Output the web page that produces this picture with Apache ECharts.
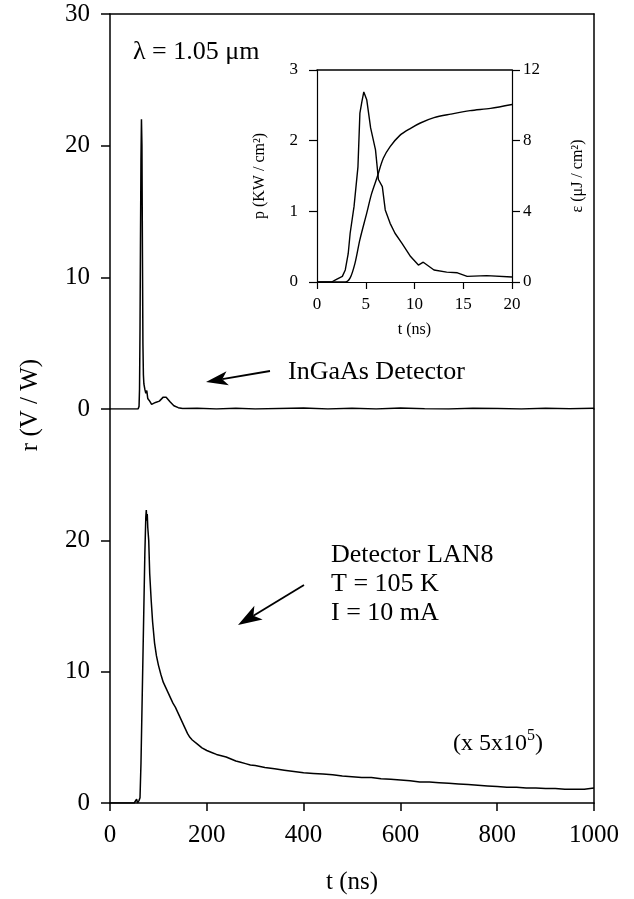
<!DOCTYPE html>
<html>
<head>
<meta charset="utf-8">
<script src="https://cdn.jsdelivr.net/npm/echarts@6/dist/echarts.min.js"></script>
<style>
  html, body { margin: 0; padding: 0; background: #fff; }
  #chart { width: 634px; height: 899px; }
</style>
</head>
<body>
<div id="chart"></div>
<script>
// InGaAs detector trace (upper panel), t in ns, r in V/W
var ingaasT = [0, 40, 58, 60, 61, 62, 63, 64, 65, 66, 67, 68, 69, 70, 72, 74, 76, 78, 82, 86, 90, 94, 98, 102, 106, 110, 113, 116, 120, 124, 128, 132, 136, 141, 150, 180, 220, 260, 300, 350, 400, 450, 500, 550, 600, 650, 700, 750, 800, 850, 900, 950, 1000];
var ingaasR = [0, 0, 0, 0.2, 1.5, 6, 13, 19, 22, 20, 12, 5, 2.6, 1.9, 1.5, 1.2, 1.4, 0.8, 0.6, 0.35, 0.45, 0.5, 0.4, 0.6, 0.75, 0.9, 1.0, 0.9, 0.75, 0.55, 0.4, 0.25, 0.15, 0.1, 0.03, 0.05, 0, 0.06, 0, 0.04, 0.08, 0, 0.05, 0, 0.07, 0.02, 0, 0.06, 0.03, 0, 0.05, 0.02, 0.05];

// LAN8 detector trace (lower panel, x 5x10^5)
var lan8T = [0, 50, 55, 57, 60, 62, 64, 66, 68, 70, 72, 74, 75, 76, 77, 78, 80, 82, 85, 88, 92, 96, 100, 105, 110, 115, 120, 125, 130, 135, 140, 145, 150, 155, 160, 165, 170, 180, 190, 200, 210, 220, 230, 240, 250, 260, 270, 280, 290, 300, 320, 340, 360, 380, 400, 420, 440, 460, 480, 500, 520, 540, 560, 580, 600, 620, 640, 660, 680, 700, 720, 740, 760, 780, 800, 820, 840, 860, 880, 900, 920, 940, 960, 980, 1000];
var lan8R = [0, 0, 0.3, 0, 0.2, 0.4, 3, 7, 11, 15, 19, 21.8, 22.3, 21.5, 22.0, 21.0, 20.0, 17.5, 15.5, 13.8, 12.2, 11.2, 10.5, 9.8, 9.2, 8.8, 8.4, 8.0, 7.6, 7.3, 6.9, 6.5, 6.1, 5.7, 5.3, 5.0, 4.8, 4.5, 4.2, 4.0, 3.85, 3.7, 3.6, 3.5, 3.35, 3.2, 3.1, 3.0, 2.9, 2.85, 2.7, 2.6, 2.5, 2.4, 2.3, 2.25, 2.2, 2.15, 2.05, 2.0, 1.95, 1.95, 1.85, 1.8, 1.75, 1.7, 1.6, 1.6, 1.55, 1.5, 1.45, 1.4, 1.35, 1.3, 1.25, 1.2, 1.2, 1.15, 1.15, 1.1, 1.1, 1.05, 1.05, 1.05, 1.15];

// inset: laser pulse power p (KW/cm2) and energy e (uJ/cm2)
var pulseT = [0, 1.5, 1.9, 2.3, 2.6, 2.9, 3.2, 3.4, 3.8, 4.2, 4.4, 4.6, 4.8, 5.1, 5.5, 6.0, 6.3, 6.7, 7.0, 7.5, 8.0, 8.7, 9.6, 10.4, 10.9, 12.0, 13.3, 14.4, 15.4, 17.4, 20];
var pulseP = [0, 0, 0.03, 0.06, 0.08, 0.17, 0.4, 0.69, 1.07, 1.63, 2.39, 2.55, 2.69, 2.58, 2.18, 1.87, 1.45, 1.35, 1.02, 0.83, 0.69, 0.55, 0.36, 0.24, 0.28, 0.17, 0.14, 0.13, 0.08, 0.09, 0.07];
var energyT = [0, 2.9, 3.4, 3.9, 4.4, 5.1, 5.6, 6.15, 6.8, 7.5, 8.5, 9.6, 10.6, 12.0, 13.7, 15.7, 17.8, 20];
var energyE = [0, 0, 0.23, 1.07, 2.4, 3.9, 5.0, 5.9, 7.0, 7.66, 8.3, 8.7, 9.0, 9.3, 9.5, 9.7, 9.83, 10.05];

function zip(a, b) {
	var out = [];
	for (var i = 0; i < a.length; i++) {
		out.push([a[i], b[i]]);
	}
	return out;
}

var serif = "'Liberation Serif', 'DejaVu Serif', serif";
var black = '#000';

function plain(v) { return String(v); }

function borderAxis(extra) {
	var ax = {
		type: 'value',
		axisLine: { show: true, onZero: false, lineStyle: { color: black, width: 1.5 } },
		axisTick: { show: false },
		axisLabel: { show: false },
		splitLine: { show: false }
	};
	for (var k in extra) ax[k] = extra[k];
	return ax;
}

// arrow head polygon from tail->tip
function arrow(x1, y1, x2, y2, len, half) {
	var dx = x2 - x1, dy = y2 - y1;
	var d = Math.sqrt(dx * dx + dy * dy);
	var ux = dx / d, uy = dy / d;
	var bx = x2 - ux * len, by = y2 - uy * len;
	var nx = -uy * half, ny = ux * half;
	var mx = x2 - ux * len * 0.75, my = y2 - uy * len * 0.75;
	return [
		{ type: 'line', shape: { x1: x1, y1: y1, x2: mx, y2: my }, style: { stroke: black, lineWidth: 1.8 } },
		{ type: 'polygon', shape: { points: [[x2, y2], [bx + nx, by + ny], [mx, my], [bx - nx, by - ny]] }, style: { fill: black } }
	];
}

var chart = echarts.init(document.getElementById('chart'));

var option = {
	backgroundColor: '#fff',
	animation: false,
	grid: [
		{ left: 110, top: 14, width: 484, height: 395 },
		{ left: 110, top: 409, width: 484, height: 394 },
		{ left: 317, top: 70, width: 195, height: 212 }
	],
	xAxis: [
		borderAxis({ gridIndex: 0, min: 0, max: 1000, position: 'top' }),
		{
			type: 'value', gridIndex: 1, min: 0, max: 1000, interval: 200,
			axisLine: { onZero: false, lineStyle: { color: black, width: 1.5 } },
			axisTick: { show: true, length: 8, lineStyle: { color: black, width: 1.5 } },
			axisLabel: { color: black, fontFamily: serif, fontSize: 25, margin: 20, formatter: plain },
			splitLine: { show: false },
			name: 't (ns)', nameLocation: 'middle', nameGap: 67,
			nameTextStyle: { color: black, fontFamily: serif, fontSize: 25 }
		},
		{
			type: 'value', gridIndex: 2, min: 0, max: 20, interval: 5,
			axisLine: { onZero: false, lineStyle: { color: black, width: 1.2 } },
			axisTick: { show: true, length: 7, lineStyle: { color: black, width: 1.2 } },
			axisLabel: { color: black, fontFamily: serif, fontSize: 17, margin: 14 },
			splitLine: { show: false },
			name: 't (ns)', nameLocation: 'middle', nameGap: 40,
			nameTextStyle: { color: black, fontFamily: serif, fontSize: 16 }
		},
		borderAxis({ gridIndex: 2, min: 0, max: 20, position: 'top' })
	],
	yAxis: [
		{
			type: 'value', gridIndex: 0, min: 0, max: 30, interval: 10,
			axisLine: { onZero: false, lineStyle: { color: black, width: 1.5 } },
			axisTick: { show: true, length: 9, lineStyle: { color: black, width: 1.5 } },
			axisLabel: { color: black, fontFamily: serif, fontSize: 25, margin: 20 },
			splitLine: { show: false }
		},
		borderAxis({ gridIndex: 0, min: 0, max: 30, position: 'right' }),
		{
			type: 'value', gridIndex: 1, min: 0, max: 30, interval: 10,
			axisLine: { onZero: false, lineStyle: { color: black, width: 1.5 } },
			axisTick: { show: true, length: 9, lineStyle: { color: black, width: 1.5 } },
			axisLabel: { color: black, fontFamily: serif, fontSize: 25, margin: 20, showMaxLabel: false },
			splitLine: { show: false }
		},
		borderAxis({ gridIndex: 1, min: 0, max: 30, position: 'right' }),
		{
			type: 'value', gridIndex: 2, min: 0, max: 3, interval: 1,
			axisLine: { onZero: false, lineStyle: { color: black, width: 1.2 } },
			axisTick: { show: true, length: 8, lineStyle: { color: black, width: 1.2 } },
			axisLabel: { color: black, fontFamily: serif, fontSize: 17, margin: 19 },
			splitLine: { show: false },
			name: 'p (KW / cm²)', nameLocation: 'middle', nameGap: 49,
			nameTextStyle: { color: black, fontFamily: serif, fontSize: 16 }
		},
		{
			type: 'value', gridIndex: 2, min: 0, max: 12, interval: 4, position: 'right',
			axisLine: { onZero: false, lineStyle: { color: black, width: 1.2 } },
			axisTick: { show: true, length: 8, lineStyle: { color: black, width: 1.2 } },
			axisLabel: { color: black, fontFamily: serif, fontSize: 17, margin: 11 },
			splitLine: { show: false },
			name: 'ε (μJ / cm²)', nameLocation: 'middle', nameGap: 58,
			nameTextStyle: { color: black, fontFamily: serif, fontSize: 16 }
		}
	],
	series: [
		{
			name: 'InGaAs', type: 'line', xAxisIndex: 0, yAxisIndex: 0,
			data: zip(ingaasT, ingaasR), showSymbol: false,
			lineStyle: { color: black, width: 1.5 }
		},
		{
			name: 'LAN8', type: 'line', xAxisIndex: 1, yAxisIndex: 2,
			data: zip(lan8T, lan8R), showSymbol: false,
			lineStyle: { color: black, width: 1.5 }
		},
		{
			name: 'p', type: 'line', xAxisIndex: 2, yAxisIndex: 4,
			data: zip(pulseT, pulseP), showSymbol: false,
			lineStyle: { color: black, width: 1.4 }
		},
		{
			name: 'e', type: 'line', xAxisIndex: 2, yAxisIndex: 5, smooth: 0.3,
			data: zip(energyT, energyE), showSymbol: false,
			lineStyle: { color: black, width: 1.4 }
		}
	],
	graphic: [
		{
			type: 'text', x: 30, y: 405, rotation: Math.PI / 2,
			style: { text: 'r (V / W)', font: '25px ' + serif, fill: black, align: 'center', verticalAlign: 'middle' }
		},
		{
			type: 'text', x: 133, y: 52,
			style: { text: 'λ = 1.05 μm', font: '26px ' + serif, fill: black, verticalAlign: 'middle' }
		},
		{
			type: 'text', x: 288, y: 372,
			style: { text: 'InGaAs Detector', font: '26px ' + serif, fill: black, verticalAlign: 'middle' }
		},
		{
			type: 'text', x: 331, y: 541,
			style: { text: 'Detector LAN8\nT = 105 K\nI = 10 mA', font: '26px ' + serif, fill: black, lineHeight: 29 }
		},
		{
			type: 'text', x: 453, y: 728,
			style: {
				text: '{a|(x 5x10}{s|5}{a|)}',
				rich: {
					a: { font: '24px ' + serif, fill: black, lineHeight: 28, verticalAlign: 'bottom' },
					s: { font: '16px ' + serif, fill: black, lineHeight: 28, verticalAlign: 'top' }
				}
			}
		}
	].concat(arrow(270, 371, 206, 382, 22, 7)).concat(arrow(304, 585, 238, 625, 24, 8))
};

chart.setOption(option);
</script>
</body>
</html>
